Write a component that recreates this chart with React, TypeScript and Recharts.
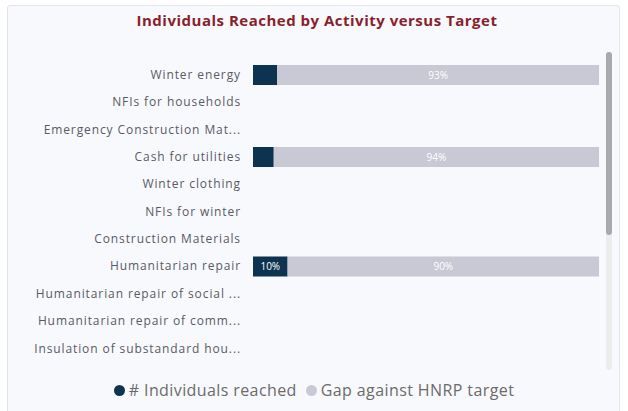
import React from "react"
import { BarChart, Bar, XAxis, YAxis, LabelList } from "recharts"

const activities = [
  "Winter energy",
  "NFIs for households",
  "Emergency Construction Mat...",
  "Cash for utilities",
  "Winter clothing",
  "NFIs for winter",
  "Construction Materials",
  "Humanitarian repair",
  "Humanitarian repair of social ...",
  "Humanitarian repair of comm...",
  "Insulation of substandard hou...",
]

// percent of HNRP target
const reachedPct: (number | null)[] = [7, null, null, 6, null, null, null, 10, null, null, null]
const gapPct: (number | null)[] = [93, null, null, 94, null, null, null, 90, null, null, null]

const DARK = "#0d3350"
const GAP = "#c9c8d5"
const FONT = "'Open Sans', 'Noto Sans', sans-serif"

const data = activities.map((name, i) => ({
  name,
  reached: reachedPct[i],
  gap: gapPct[i],
}))

const pct = (v: any) => (v == null || v < 10 ? "" : `${v}%`)

export default function App() {
  return (
    <div style={{ position: "absolute", left: 0, top: 0, width: 628, height: 411, background: "#fff", overflow: "hidden", fontFamily: FONT }}>
      <div
        style={{
          position: "absolute",
          left: 7,
          top: 5,
          width: 611,
          height: 420,
          background: "#f8f9fc",
          border: "1px solid #e3e4e8",
          borderRadius: 3,
        }}
      />
      <div
        style={{
          position: "absolute",
          left: 0,
          width: 634,
          top: 10,
          textAlign: "center",
          fontSize: 15,
          fontWeight: 700,
          letterSpacing: 0.5,
          color: "#8a1f2c",
        }}
      >
        Individuals Reached by Activity versus Target
      </div>

      <div style={{ position: "absolute", left: 0, top: 61 }}>
        <BarChart
          width={599}
          height={301}
          data={data}
          layout="vertical"
          margin={{ top: 0, right: 0, left: 0, bottom: 0 }}
          barSize={20}
        >
          <XAxis type="number" domain={[0, 100]} hide />
          <YAxis
            type="category"
            dataKey="name"
            width={253}
            axisLine={false}
            tickLine={false}
            tickSize={0}
            tickMargin={12}
            interval={0}
            tick={{ fontSize: 12, fill: "#585a66", fontFamily: FONT, letterSpacing: 0.9 }}
          />
          <Bar dataKey="reached" stackId="a" fill={DARK} isAnimationActive={false}>
            <LabelList dataKey="reached" position="center" formatter={pct} fill="#fff" fontSize={10} fontFamily={FONT} />
          </Bar>
          <Bar dataKey="gap" stackId="a" fill={GAP} isAnimationActive={false}>
            <LabelList dataKey="gap" position="center" formatter={pct} fill="#fff" fontSize={10} fontFamily={FONT} />
          </Bar>
        </BarChart>
      </div>

      {/* scrollbar */}
      <div style={{ position: "absolute", left: 606, top: 52, width: 6, height: 318, background: "#ececef", borderRadius: 3 }} />
      <div style={{ position: "absolute", left: 606, top: 52, width: 6, height: 183, background: "#a9a9ad", borderRadius: 3 }} />

      <div
        style={{
          position: "absolute",
          left: 0,
          width: 628,
          top: 379,
          display: "flex",
          justifyContent: "center",
          alignItems: "center",
          fontSize: 16,
          letterSpacing: 0.4,
          color: "#6b6b6b",
        }}
      >
        <span style={{ display: "inline-block", width: 11, height: 11, borderRadius: 6, background: DARK, marginRight: 4 }} />
        <span style={{ marginRight: 9 }}># Individuals reached</span>
        <span style={{ display: "inline-block", width: 11, height: 11, borderRadius: 6, background: GAP, marginRight: 4 }} />
        <span>Gap against HNRP target</span>
      </div>
    </div>
  )
}
